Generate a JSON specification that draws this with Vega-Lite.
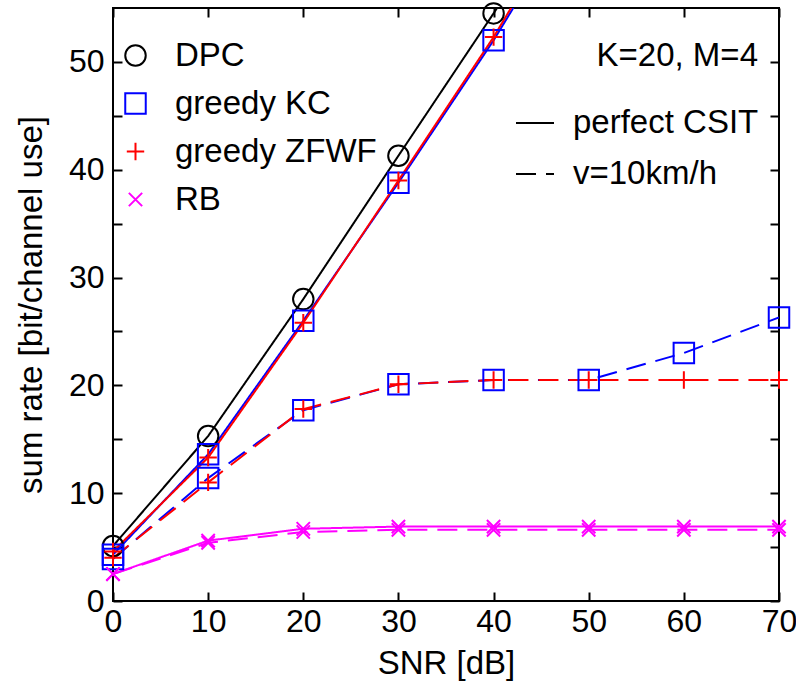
{
  "$schema": "https://vega.github.io/schema/vega-lite/v6.json",
  "width": 666,
  "height": 593,
  "autosize": {"type": "none"},
  "padding": {"left": 113, "top": 8, "right": 17, "bottom": 82},
  "config": {
    "font": "Liberation Sans",
    "view": {"stroke": "black", "strokeWidth": 2},
    "axis": {
      "grid": false,
      "domain": false,
      "tickColor": "black",
      "tickWidth": 2,
      "tickSize": -9,
      "labelFlush": false,
      "labelColor": "black",
      "labelFontSize": 32,
      "titleColor": "black",
      "titleFontSize": 33,
      "titleFontWeight": "normal"
    },
    "legend": {
      "labelColor": "black",
      "labelFontSize": 33,
      "labelLimit": 400,
      "titleColor": "black",
      "titleFontSize": 33,
      "titleFontWeight": "normal",
      "titleLimit": 400,
      "padding": 0
    }
  },
  "data": {
    "values": [
      {"snr": 0, "alg": "DPC", "csi": "perfect CSIT", "rate": 5.1},
      {"snr": 10, "alg": "DPC", "csi": "perfect CSIT", "rate": 15.3},
      {"snr": 20, "alg": "DPC", "csi": "perfect CSIT", "rate": 28.0},
      {"snr": 30, "alg": "DPC", "csi": "perfect CSIT", "rate": 41.3},
      {"snr": 40, "alg": "DPC", "csi": "perfect CSIT", "rate": 54.5},
      {"snr": 50, "alg": "DPC", "csi": "perfect CSIT", "rate": 68.0},
      {"snr": 0, "alg": "greedy KC", "csi": "perfect CSIT", "rate": 4.3},
      {"snr": 10, "alg": "greedy KC", "csi": "perfect CSIT", "rate": 13.6},
      {"snr": 20, "alg": "greedy KC", "csi": "perfect CSIT", "rate": 26.0},
      {"snr": 30, "alg": "greedy KC", "csi": "perfect CSIT", "rate": 38.8},
      {"snr": 40, "alg": "greedy KC", "csi": "perfect CSIT", "rate": 52.0},
      {"snr": 50, "alg": "greedy KC", "csi": "perfect CSIT", "rate": 66.5},
      {"snr": 0, "alg": "greedy ZFWF", "csi": "perfect CSIT", "rate": 4.6},
      {"snr": 10, "alg": "greedy ZFWF", "csi": "perfect CSIT", "rate": 13.3},
      {"snr": 20, "alg": "greedy ZFWF", "csi": "perfect CSIT", "rate": 25.8},
      {"snr": 30, "alg": "greedy ZFWF", "csi": "perfect CSIT", "rate": 39.0},
      {"snr": 40, "alg": "greedy ZFWF", "csi": "perfect CSIT", "rate": 52.3},
      {"snr": 50, "alg": "greedy ZFWF", "csi": "perfect CSIT", "rate": 67.0},
      {"snr": 0, "alg": "greedy KC", "csi": "v=10km/h", "rate": 3.9},
      {"snr": 10, "alg": "greedy KC", "csi": "v=10km/h", "rate": 11.4},
      {"snr": 20, "alg": "greedy KC", "csi": "v=10km/h", "rate": 17.7},
      {"snr": 30, "alg": "greedy KC", "csi": "v=10km/h", "rate": 20.1},
      {"snr": 40, "alg": "greedy KC", "csi": "v=10km/h", "rate": 20.5},
      {"snr": 50, "alg": "greedy KC", "csi": "v=10km/h", "rate": 20.5},
      {"snr": 60, "alg": "greedy KC", "csi": "v=10km/h", "rate": 23.0},
      {"snr": 70, "alg": "greedy KC", "csi": "v=10km/h", "rate": 26.3},
      {"snr": 0, "alg": "greedy ZFWF", "csi": "v=10km/h", "rate": 4.0},
      {"snr": 10, "alg": "greedy ZFWF", "csi": "v=10km/h", "rate": 11.0},
      {"snr": 20, "alg": "greedy ZFWF", "csi": "v=10km/h", "rate": 17.8},
      {"snr": 30, "alg": "greedy ZFWF", "csi": "v=10km/h", "rate": 20.1},
      {"snr": 40, "alg": "greedy ZFWF", "csi": "v=10km/h", "rate": 20.5},
      {"snr": 50, "alg": "greedy ZFWF", "csi": "v=10km/h", "rate": 20.5},
      {"snr": 60, "alg": "greedy ZFWF", "csi": "v=10km/h", "rate": 20.5},
      {"snr": 70, "alg": "greedy ZFWF", "csi": "v=10km/h", "rate": 20.5},
      {"snr": 0, "alg": "RB", "csi": "perfect CSIT", "rate": 2.5},
      {"snr": 10, "alg": "RB", "csi": "perfect CSIT", "rate": 5.6},
      {"snr": 20, "alg": "RB", "csi": "perfect CSIT", "rate": 6.7},
      {"snr": 30, "alg": "RB", "csi": "perfect CSIT", "rate": 6.9},
      {"snr": 40, "alg": "RB", "csi": "perfect CSIT", "rate": 6.9},
      {"snr": 50, "alg": "RB", "csi": "perfect CSIT", "rate": 6.9},
      {"snr": 60, "alg": "RB", "csi": "perfect CSIT", "rate": 6.9},
      {"snr": 70, "alg": "RB", "csi": "perfect CSIT", "rate": 6.9},
      {"snr": 0, "alg": "RB", "csi": "v=10km/h", "rate": 2.5},
      {"snr": 10, "alg": "RB", "csi": "v=10km/h", "rate": 5.4},
      {"snr": 20, "alg": "RB", "csi": "v=10km/h", "rate": 6.4},
      {"snr": 30, "alg": "RB", "csi": "v=10km/h", "rate": 6.6},
      {"snr": 40, "alg": "RB", "csi": "v=10km/h", "rate": 6.6},
      {"snr": 50, "alg": "RB", "csi": "v=10km/h", "rate": 6.6},
      {"snr": 60, "alg": "RB", "csi": "v=10km/h", "rate": 6.6},
      {"snr": 70, "alg": "RB", "csi": "v=10km/h", "rate": 6.6}
    ]
  },
  "layer": [
    {
      "mark": {"type": "line", "clip": true, "strokeWidth": 2},
      "encoding": {
        "x": {"field": "snr", "type": "quantitative", "scale": {"domain": [0, 70], "nice": false},
          "axis": {"orient": "bottom", "values": [0, 10, 20, 30, 40, 50, 60, 70], "title": "SNR [dB]", "labelPadding": 14, "titlePadding": 10}},
        "y": {"field": "rate", "type": "quantitative", "scale": {"domain": [0, 55], "nice": false},
          "axis": {"orient": "left", "values": [0, 5, 10, 15, 20, 25, 30, 35, 40, 45, 50], "labelExpr": "datum.value % 10 == 0 ? datum.label : ''", "title": "sum rate [bit/channel use]", "labelPadding": 18, "titlePadding": 20}},
        "color": {"field": "alg", "type": "nominal", "scale": {"domain": ["DPC", "greedy KC", "greedy ZFWF", "RB"], "range": ["#000000", "#0000ff", "#ff0000", "#ff00ff"]}},
        "strokeDash": {"field": "csi", "type": "nominal",
          "scale": {"domain": ["perfect CSIT", "v=10km/h"], "range": [[1, 0], [20, 10]]},
          "legend": {"orient": "none", "legendX": 402, "legendY": 32, "title": "K=20, M=4", "titleAnchor": "end", "titlePadding": 30, "symbolType": "stroke", "symbolSize": 1444, "symbolStrokeWidth": 2, "symbolStrokeColor": "black", "rowPadding": 14, "labelOffset": 18}}
      }
    },
    {
      "transform": [{"filter": "datum.rate <= 55"}],
      "mark": {"type": "point", "filled": false, "strokeWidth": 2, "opacity": 1, "size": 420},
      "encoding": {
        "x": {"field": "snr", "type": "quantitative", "axis": null},
        "y": {"field": "rate", "type": "quantitative", "axis": null},
        "color": {"field": "alg", "type": "nominal", "scale": {"domain": ["DPC", "greedy KC", "greedy ZFWF", "RB"], "range": ["#000000", "#0000ff", "#ff0000", "#ff00ff"]},
          "legend": {"orient": "none", "legendX": 6, "legendY": 31, "title": null, "symbolSize": 420, "symbolStrokeWidth": 2, "rowPadding": 14, "labelOffset": 23}},
        "shape": {"field": "alg", "type": "nominal", "scale": {"domain": ["DPC", "greedy KC", "greedy ZFWF", "RB"], "range": ["circle", "square", "M-0.85,0L0.85,0M0,-0.85L0,0.85", "M-0.65,-0.65L0.65,0.65M-0.65,0.65L0.65,-0.65"]},
          "legend": {"orient": "none", "legendX": 6, "legendY": 31, "title": null, "symbolSize": 420, "symbolStrokeWidth": 2, "rowPadding": 14, "labelOffset": 23}}
      }
    },
    {
      "transform": [{"filter": "datum.rate <= 55"}],
      "mark": {"type": "point", "opacity": 0},
      "encoding": {
        "x": {"field": "snr", "type": "quantitative",
          "axis": {"orient": "top", "values": [0, 10, 20, 30, 40, 50, 60, 70], "labels": false, "title": null}},
        "y": {"field": "rate", "type": "quantitative",
          "axis": {"orient": "right", "values": [0, 5, 10, 15, 20, 25, 30, 35, 40, 45, 50], "labels": false, "title": null}}
      }
    }
  ],
  "resolve": {"axis": {"x": "independent", "y": "independent"}}
}
